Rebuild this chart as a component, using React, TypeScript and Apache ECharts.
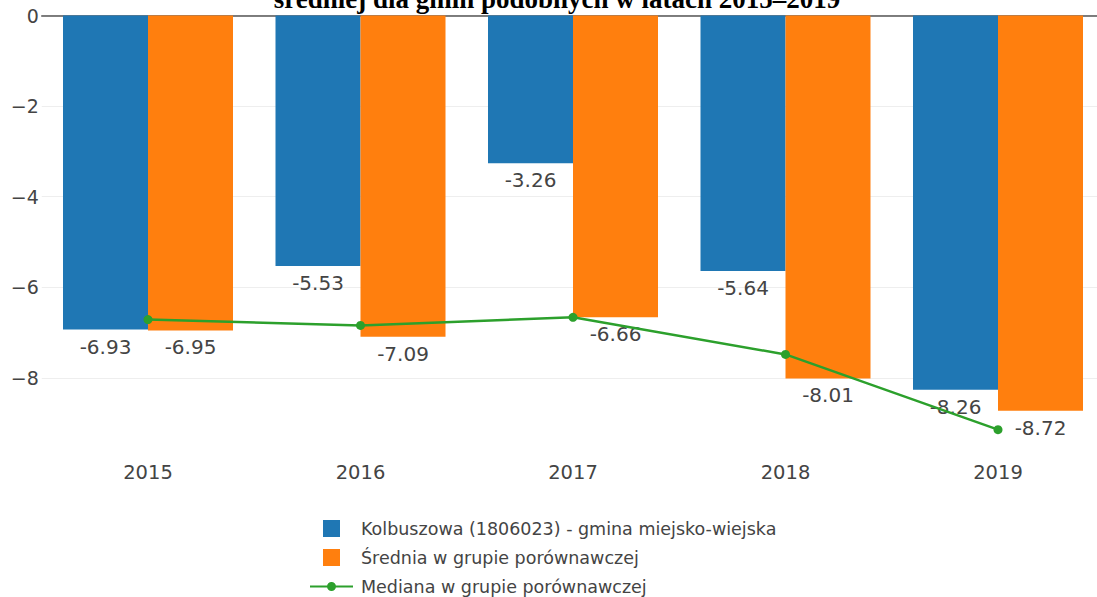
import React, { useEffect, useRef } from "react";
import * as echarts from "echarts";

const years = ["2015", "2016", "2017", "2018", "2019"];
const kolbuszowa = [-6.93, -5.53, -3.26, -5.64, -8.26];
const srednia = [-6.95, -7.09, -6.66, -8.01, -8.72];
const mediana = [-6.71, -6.84, -6.66, -7.48, -9.14];
const seriesNames = [
  "Kolbuszowa (1806023) - gmina miejsko-wiejska",
  "Średnia w grupie porównawczej",
  "Mediana w grupie porównawczej",
];
const titleText = "średniej dla gmin podobnych w latach 2015–2019";

const FONT = '"DejaVu Sans", Verdana, sans-serif';
const TEXT_COLOR = "#444";

export default function App() {
  const ref = useRef<HTMLDivElement>(null);
  useEffect(() => {
    if (!ref.current) return;
    const chart = echarts.init(ref.current, undefined, { renderer: "svg" });
    const barLabel = {
      show: true,
      position: "bottom",
      distance: 7,
      color: TEXT_COLOR,
      fontSize: 20,
      fontFamily: FONT,
      formatter: (p: any) => Number(p.value).toFixed(2),
    };
    chart.setOption({
      animation: false,
      backgroundColor: "#fff",
      graphic: [
        {
          type: "text",
          x: 557,
          y: 12.5,
          z: 100,
          style: {
            text: titleText,
            fontFamily: '"Liberation Serif", "Times New Roman", serif',
            fontWeight: "bold",
            fontSize: 27,
            fill: "#000",
            align: "center",
            verticalAlign: "bottom",
          },
        },
      ],
      grid: { left: 41.75, right: 5.75, top: 15.5, height: 435, containLabel: false },
      legend: {
        orient: "vertical",
        left: 310,
        top: 519.5,
        padding: 0,
        itemWidth: 46,
        itemHeight: 17,
        itemGap: 11,
        selectedMode: false,
        textStyle: { color: TEXT_COLOR, fontSize: 17.5, fontFamily: FONT, lineHeight: 17 },
        data: [
          { name: seriesNames[0], icon: "path://M0,0M46,17M13,0L30,0L30,17L13,17Z" },
          { name: seriesNames[1], icon: "path://M0,0M46,17M13,0L30,0L30,17L13,17Z" },
          {
            name: seriesNames[2],
            icon: "path://M0,0M46,17M0,7.5L43,7.5L43,9.5L0,9.5ZM26,8.5A4.5,4.5,0,1,1,17,8.5A4.5,4.5,0,1,1,26,8.5Z",
          },
        ],
      },
      xAxis: [
        {
          type: "category",
          data: years,
          position: "bottom",
          axisLine: { show: false },
          axisTick: { show: false },
          axisLabel: { color: TEXT_COLOR, fontSize: 19.5, fontFamily: FONT, margin: 12 },
        },
        {
          type: "category",
          data: years,
          position: "top",
          axisLine: { show: true, onZero: false, lineStyle: { color: "#555", width: 1.5 } },
          axisTick: { show: false },
          axisLabel: { show: false },
        },
      ],
      yAxis: {
        type: "value",
        min: -9.6,
        max: 0,
        minInterval: 2,
        maxInterval: 2,
        axisLine: { show: false },
        axisTick: { show: false },
        axisLabel: {
          color: TEXT_COLOR,
          fontSize: 19,
          fontFamily: FONT,
          margin: 3,
          showMinLabel: false,
          formatter: (v: number) => (v === 0 ? "0" : "\u2212" + Math.abs(v)),
        },
        splitLine: { show: true, showMinLine: false, lineStyle: { color: "#eee", width: 1 } },
      },
      series: [
        {
          name: seriesNames[0],
          type: "bar",
          data: kolbuszowa,
          barGap: "0%",
          barCategoryGap: "20%",
          itemStyle: { color: "#1f77b4" },
          label: barLabel,
          z: 2,
        },
        {
          name: seriesNames[1],
          type: "bar",
          data: srednia,
          barGap: "0%",
          barCategoryGap: "20%",
          itemStyle: { color: "#ff7f0e" },
          label: barLabel,
          z: 2,
        },
        {
          name: seriesNames[2],
          type: "line",
          data: mediana,
          symbol: "circle",
          symbolSize: 9,
          itemStyle: { color: "#2ca02c" },
          lineStyle: { color: "#2ca02c", width: 2.5 },
          z: 5,
        },
      ],
    });
    return () => chart.dispose();
  }, []);
  return (
    <div
      ref={ref}
      style={{ position: "fixed", left: 0, top: 0, width: 1110, height: 597, background: "#fff" }}
    />
  );
}
